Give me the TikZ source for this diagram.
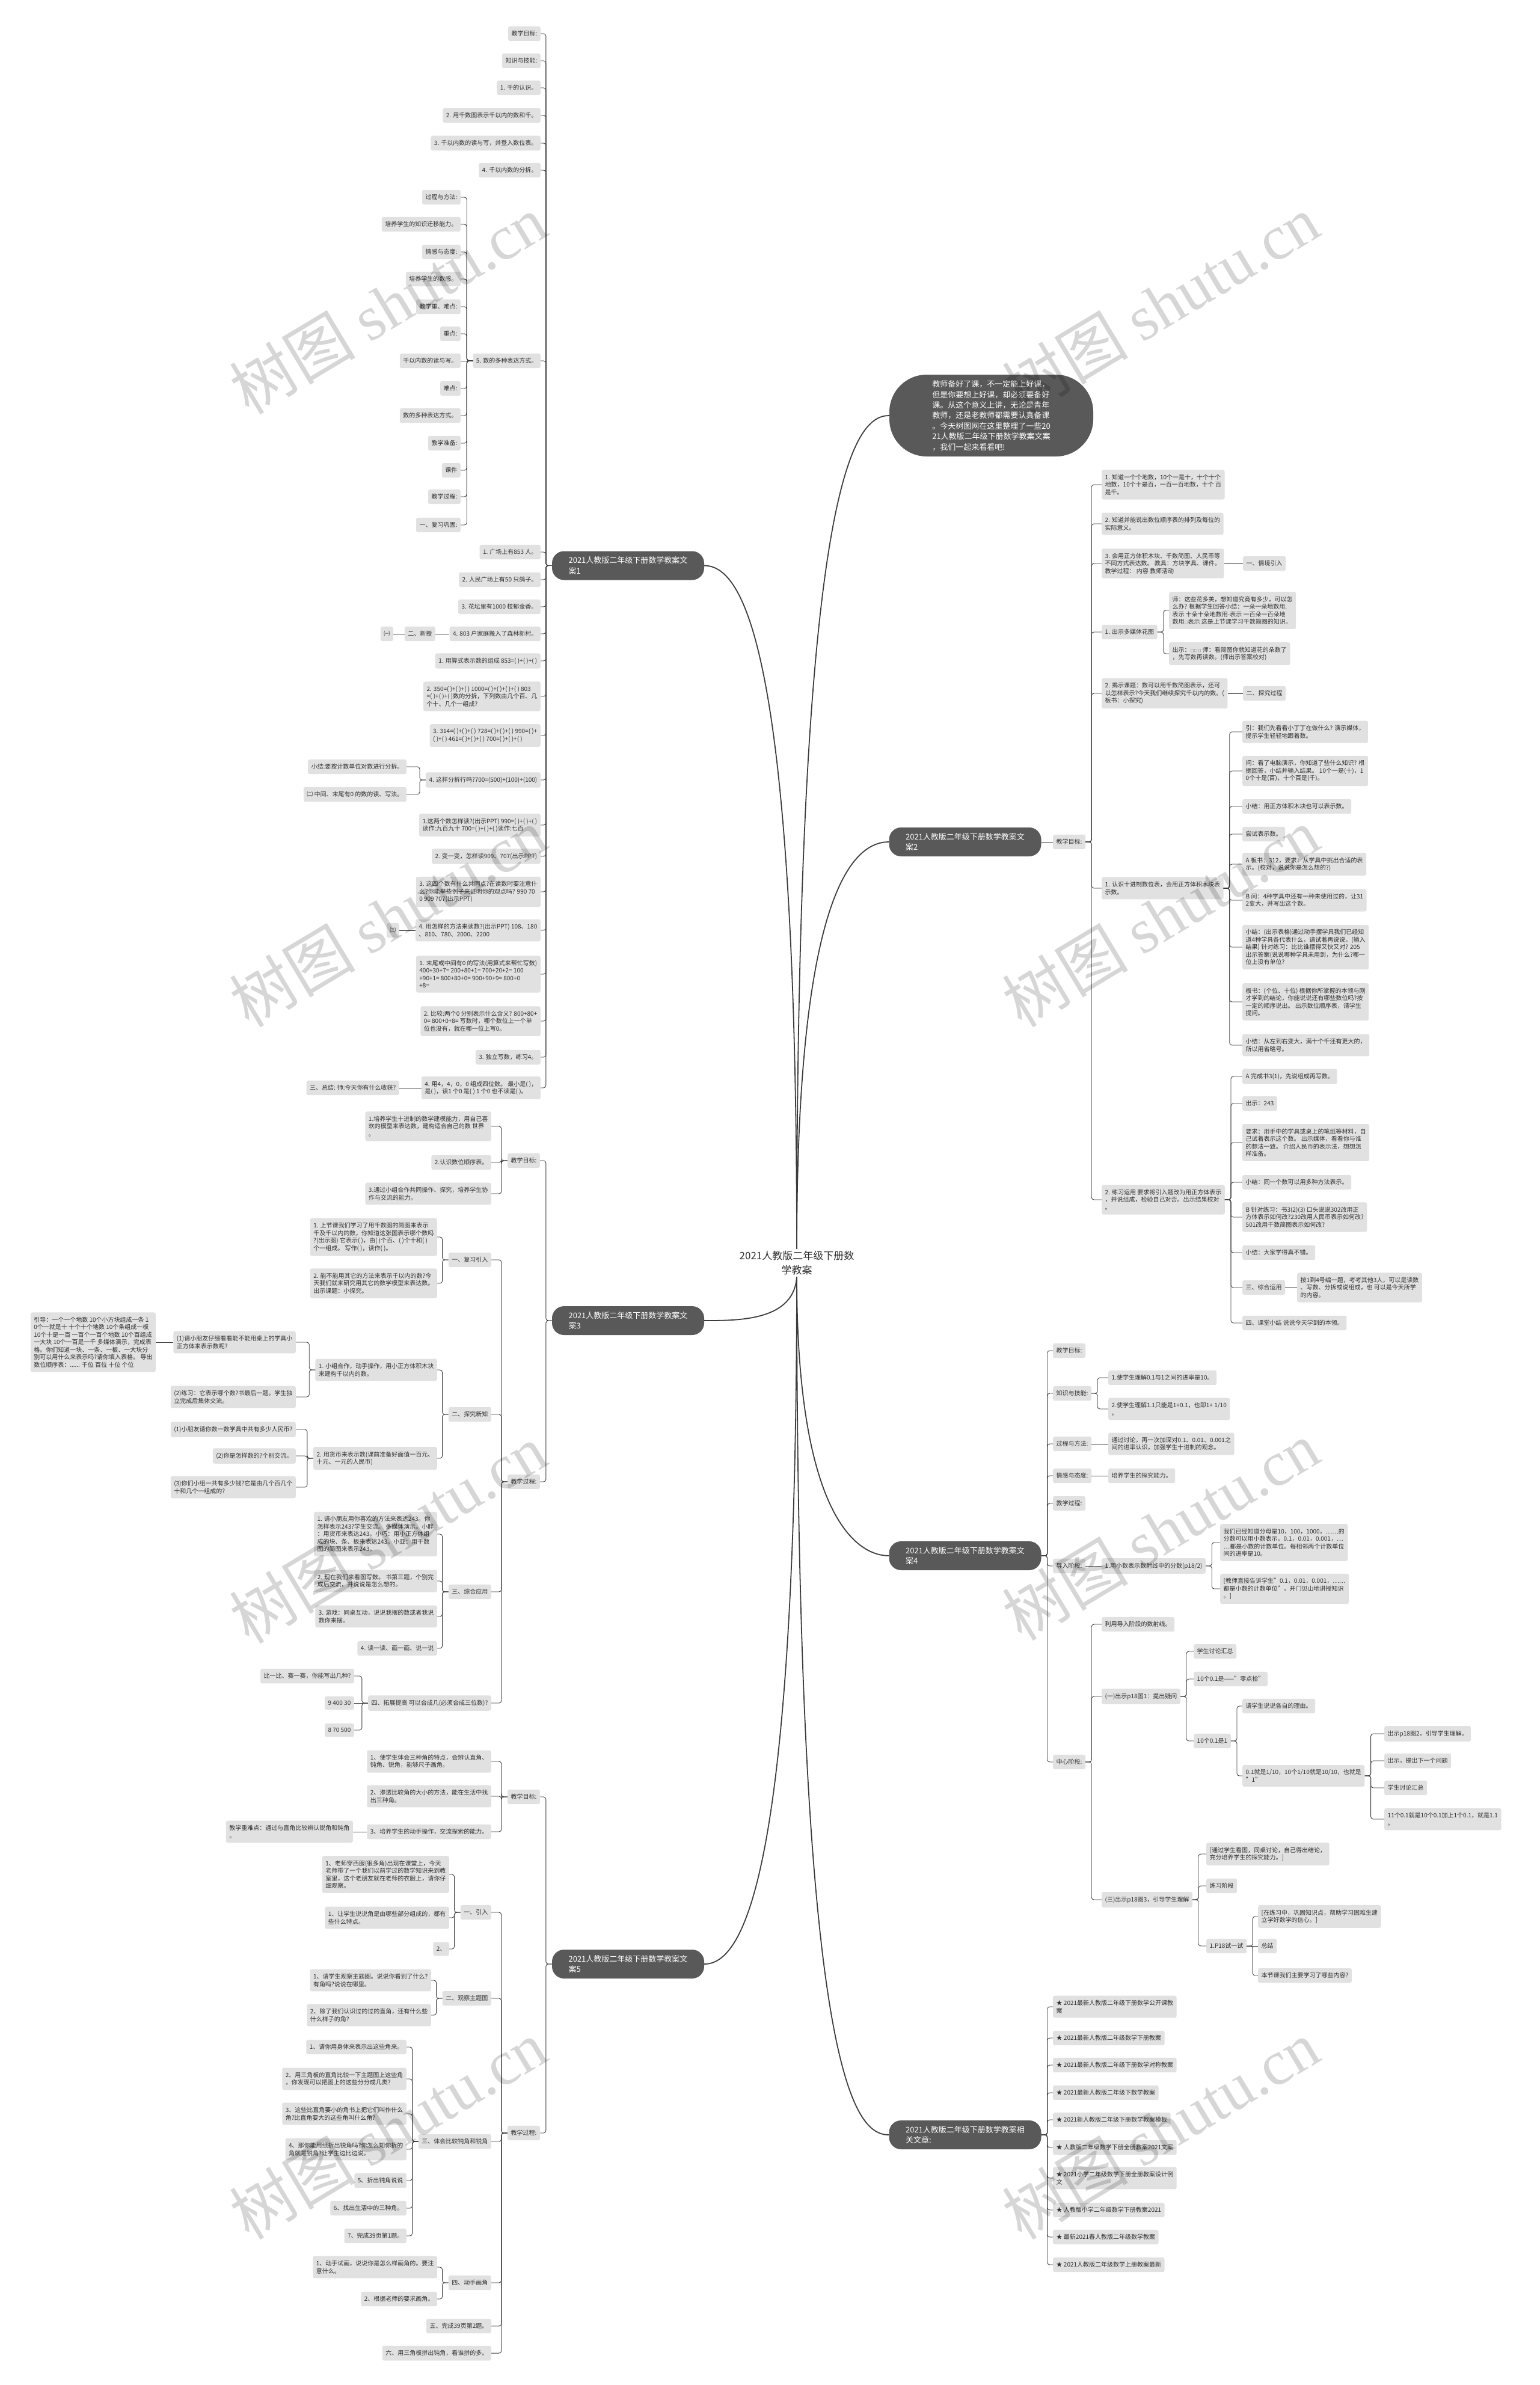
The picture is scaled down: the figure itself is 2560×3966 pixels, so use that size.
\documentclass[tikz,border=0pt]{standalone}
\usepackage{fontspec}
\setmainfont{Noto Sans CJK SC}
\newfontfamily\wmlatin{Liberation Serif}
\usepackage{xcolor}

\definecolor{leafgray}{HTML}{E1E1E1}
\definecolor{darknode}{HTML}{595959}
\definecolor{linegray}{HTML}{3C3C3C}
\definecolor{inkgray}{HTML}{2E2E2E}

\newcommand\leaffont{\fontsize{10pt}{12.5pt}\selectfont}
\newcommand\brfont{\fontsize{13pt}{17.4pt}\selectfont}
\newcommand\ctfont{\fontsize{17pt}{24pt}\selectfont}
\newcommand\wmsize{\fontsize{105pt}{105pt}\selectfont}
\newcommand\sq{{\fontsize{6pt}{6pt}\selectfont □}}

\tikzset{
  leaf/.style={fill=leafgray, rounded corners=3pt, inner xsep=5.5pt, inner ysep=7.5pt,
    align=left, font=\leaffont, text=inkgray},
  branch/.style={fill=darknode, rounded corners=20pt, text=white, font=\brfont,
    align=left, minimum width=253pt, minimum height=48pt},
  intro/.style={fill=darknode, rounded corners=62pt, text=white, font=\brfont,
    align=left, minimum width=339pt, minimum height=136pt},
  centre/.style={font=\ctfont, align=center, text=inkgray},
  link/.style={draw=linegray, line width=0.9pt, rounded corners=4pt},
  trunk/.style={draw=linegray, line width=1.8pt},
  wmark/.style={rotate=31, text=black, opacity=0.16, font=\wmsize}
}
% child links: left side / right side, bent or straight
\newcommand\lkl[2]{\draw[link] (#1.west) -- ++(-10pt,0) |- (#2.east);}
\newcommand\lkr[2]{\draw[link] (#1.east) -- ++(10pt,0) |- (#2.west);}
\newcommand\lsl[2]{\draw[link] (#1.west) -- (#2.east);}
\newcommand\lsr[2]{\draw[link] (#1.east) -- (#2.west);}

\begin{document}
\begin{tikzpicture}[x=1pt,y=-1pt]
  \fill[white] (0,0) rectangle (2560,3966);
  \useasboundingbox (0,0) rectangle (2560,3966);

  % ---------- centre and intro ----------
  \node[centre] (c) at (1325,2100) {2021人教版二年级下册数\\学教案};
  \node[intro] (intro) at (1648.5,691) {教师备好了课，不一定能上好课，\\但是你要想上好课，却必须要备好\\课。从这个意义上讲，无论是青年\\教师，还是老教师都需要认真备课\\。今天树图网在这里整理了一些20\\21人教版二年级下册数学教案文案\\，我们一起来看看吧!};

  % ---------- branch 1 (left, top) ----------
  \node[branch] (b1) at (1044.5,940.5) {2021人教版二年级下册数学教案文\\案1};
  \node[leaf,anchor=east] (o1) at (899,56) {教学目标:};
  \node[leaf,anchor=east] (o2) at (899,101) {知识与技能:};
  \node[leaf,anchor=east] (o3) at (899,146) {1. 千的认识。};
  \node[leaf,anchor=east] (o4) at (899,192) {2. 用千数图表示千以内的数和千。};
  \node[leaf,anchor=east] (o5) at (899,238) {3. 千以内数的读与写，并登入数位表。};
  \node[leaf,anchor=east] (o6) at (899,283) {4. 千以内数的分拆。};
  \node[leaf,anchor=east] (o7) at (899,600) {5. 数的多种表达方式。};
  \node[leaf,anchor=east] (o8) at (899,918) {1. 广场上有853 人。};
  \node[leaf,anchor=east] (o9) at (899,964) {2. 人民广场上有50 只鸽子。};
  \node[leaf,anchor=east] (o10) at (899,1009) {3. 花坛里有1000 枝郁金香。};
  \node[leaf,anchor=east] (o11) at (899,1054) {4. 803 户家庭搬入了森林新村。};
  \node[leaf,anchor=east] (o12) at (899,1099) {1. 用算式表示数的组成 853=( )+( )+( )};
  \node[leaf,anchor=east] (o13) at (899,1158) {2. 350=( )+( )+( ) 1000=( )+( )+( )+( ) 803\\=( )+( )+( )数的分拆，下列数由几个百、几\\个十、几个一组成?};
  \node[leaf,anchor=east] (o14) at (899,1223) {3. 314=( )+( )+( ) 728=( )+( )+( ) 990=( )+\\( )+( ) 461=( )+( )+( ) 700=( )+( )+( )};
  \node[leaf,anchor=east] (o15) at (899,1297) {4. 这样分拆行吗?700=(500)+(100)+(100)};
  \node[leaf,anchor=east] (o16) at (899,1372) {1.这两个数怎样读?(出示PPT) 990=( )+( )+( )\\读作:九百九十 700=( )+( )+( )读作:七百};
  \node[leaf,anchor=east] (o17) at (899,1424) {2. 变一变，怎样读909、707(出示PPT)};
  \node[leaf,anchor=east] (o18) at (899,1483) {3. 这四个数有什么共同点?在读数时要注意什\\么?你能举些例子来证明你的观点吗? 990 70\\0 909 707(出示PPT)};
  \node[leaf,anchor=east] (o19) at (899,1547) {4. 用怎样的方法来读数?(出示PPT) 108、180\\、810、780、2000、2200};
  \node[leaf,anchor=east] (o20) at (899,1620) {1. 末尾或中间有0 的写法(用算式来帮忙写数)\\400+30+7= 200+80+1= 700+20+2= 100\\+90+1= 800+80+0= 900+90+9= 800+0\\+8=};
  \node[leaf,anchor=east] (o21) at (899,1698) {2. 比较:两个0 分别表示什么含义? 800+80+\\0= 800+0+8= 写数时，哪个数位上一个单\\位也没有，就在哪一位上写0。};
  \node[leaf,anchor=east] (o22) at (899,1758) {3. 独立写数，练习4。};
  \node[leaf,anchor=east] (o23) at (899,1809) {4. 用4，4，0，0 组成四位数。 最小是( )，\\是( )，读1 个0 是( ) 1 个0 也不读是( )。};
  % under 5.
  \node[leaf,anchor=east] (o7a) at (766,328) {过程与方法:};
  \node[leaf,anchor=east] (o7b) at (766,373) {培养学生的知识迁移能力。};
  \node[leaf,anchor=east] (o7c) at (766,419) {情感与态度:};
  \node[leaf,anchor=east] (o7d) at (766,464) {培养学生的数感。};
  \node[leaf,anchor=east] (o7e) at (766,510) {教学重、难点:};
  \node[leaf,anchor=east] (o7f) at (766,555) {重点:};
  \node[leaf,anchor=east] (o7g) at (766,600) {千以内数的读与写。};
  \node[leaf,anchor=east] (o7h) at (766,646) {难点:};
  \node[leaf,anchor=east] (o7i) at (766,691) {数的多种表达方式。};
  \node[leaf,anchor=east] (o7j) at (766,737) {教学准备:};
  \node[leaf,anchor=east] (o7k) at (766,782) {课件};
  \node[leaf,anchor=east] (o7l) at (766,826) {教学过程:};
  \node[leaf,anchor=east] (o7m) at (766,873) {一、复习巩固:};
  % small side chains
  \node[leaf,anchor=east] (o11a) at (724,1054) {二、新授};
  \node[leaf,anchor=east] (o11b) at (654,1054) {㈠};
  \node[leaf,anchor=east] (o15a) at (676,1275) {小结:要按计数单位对数进行分拆。};
  \node[leaf,anchor=east] (o15b) at (676,1321) {㈡ 中间、末尾有0 的数的读、写法。};
  \node[leaf,anchor=east] (o19a) at (664,1547) {㈢};
  \node[leaf,anchor=east] (o23a) at (664,1809) {三、总结: 师:今天你有什么收获?};

  \foreach \k in {o1,o2,o3,o4,o5,o6,o7,o8,o9,o10,o11,o12,o13,o14,o15,o16,o17,o18,o19,o20,o21,o22,o23}
    {\lkl{b1}{\k}}
  \foreach \k in {o7a,o7b,o7c,o7d,o7e,o7f,o7h,o7i,o7j,o7k,o7l,o7m}
    {\lkl{o7}{\k}}
  \lsl{o7}{o7g}
  \lsl{o11}{o11a}
  \lsl{o11a}{o11b}
  \lkl{o15}{o15a}
  \lkl{o15}{o15b}
  \lsl{o19}{o19a}
  \lsl{o23}{o23a}

  % ---------- branch 3 (left, middle) ----------
  \node[branch] (b3) at (1044.5,2196) {2021人教版二年级下册数学教案文\\案3};
  \node[leaf,anchor=east] (p1) at (898,1930) {教学目标:};
  \node[leaf,anchor=east] (p2) at (898,2464) {教学过程:};
  \node[leaf,anchor=east] (p1a) at (817,1873) {1.培养学生十进制的数学建模能力，用自己喜\\欢的模型来表达数，建构适合自己的数 世界\\。};
  \node[leaf,anchor=east] (p1b) at (817,1933) {2.认识数位顺序表。};
  \node[leaf,anchor=east] (p1c) at (817,1985) {3.通过小组合作共同操作、探究，培养学生协\\作与交流的能力。};
  \node[leaf,anchor=east] (p2a) at (817,2095) {一、复习引入};
  \node[leaf,anchor=east] (p2b) at (817,2352) {二、探究新知};
  \node[leaf,anchor=east] (p2c) at (817,2647) {三、综合应用};
  \node[leaf,anchor=east] (p2d) at (817,2832) {四、拓展提高 可以合成几(必须合成三位数)?};
  \node[leaf,anchor=east] (p2a1) at (727,2057) {1. 上节课我们学习了用千数图的简图来表示\\千及千以内的数，你知道这张图表示哪个数吗\\?(出示图) 它表示( )，由( )个百、( )个十和( )\\个一组成。 写作( )，读作( )。};
  \node[leaf,anchor=east] (p2a2) at (727,2134) {2. 能不能用其它的方法来表示千以内的数?今\\天我们就来研究用其它的数学模型来表达数。\\ 出示课题：小探究。};
  \node[leaf,anchor=east] (p2b1) at (727,2278) {1. 小组合作，动手操作，用小正方体积木块\\来建构千以内的数。};
  \node[leaf,anchor=east] (p2b2) at (727,2425) {2. 用货币来表示数(课前准备好面值一百元、\\十元、一元的人民币)};
  \node[leaf,anchor=east] (p2b1a) at (492,2232) {(1)请小朋友仔细看看能不能用桌上的学具小\\正方体来表示数呢?};
  \node[leaf,anchor=east] (p2b1b) at (492,2323) {(2)练习：它表示哪个数?书最后一题。学生独\\立完成后集体交流。};
  \node[leaf,anchor=east] (p2b1c) at (259,2232) {引导：一个一个地数 10个小方块组成一条 1\\0个一就是十 十个十个地数 10个条组成一板\\10个十是一百 一百个一百个地数 10个百组成\\一大块 10个一百是一千 多媒体演示，完成表\\格。你们知道一块、一条、一板、一大块分\\别可以用什么来表示吗?请你填入表格。 导出\\数位顺序表：...... 千位 百位 十位 个位};
  \node[leaf,anchor=east] (p2b2a) at (492,2377) {(1)小朋友请你数一数学具中共有多少人民币?};
  \node[leaf,anchor=east] (p2b2b) at (492,2421) {(2)你是怎样数的?个别交流。};
  \node[leaf,anchor=east] (p2b2c) at (492,2473) {(3)你们小组一共有多少钱?它是由几个百几个\\十和几个一组成的?};
  \node[leaf,anchor=east] (p2c1) at (727,2551) {1. 请小朋友用你喜欢的方法来表达243。你\\怎样表示243?学生交流。 多媒体演示。小胖\\：用货币来表达243。小巧：用小正方体组\\成的块、条、板来表达243。小亚：用千数\\图的简图来表示243。};
  \node[leaf,anchor=east] (p2c2) at (727,2629) {2. 现在我们来看图写数。 书第三题，个别完\\成后交流，并说说是怎么想的。};
  \node[leaf,anchor=east] (p2c3) at (727,2688) {3. 游戏：同桌互动，说说我摆的数或者我说\\数你来摆。};
  \node[leaf,anchor=east] (p2c4) at (727,2741) {4. 读一读、画一画、说一说};
  \node[leaf,anchor=east] (p2d1) at (589,2787) {比一比、赛一赛，你能写出几种?};
  \node[leaf,anchor=east] (p2d2) at (589,2832) {9 400 30};
  \node[leaf,anchor=east] (p2d3) at (589,2877) {8 70 500};

  \lkl{b3}{p1}
  \lkl{b3}{p2}
  \foreach \k in {p1a,p1b,p1c} {\lkl{p1}{\k}}
  \foreach \k in {p2a,p2b,p2c,p2d} {\lkl{p2}{\k}}
  \foreach \k in {p2a1,p2a2} {\lkl{p2a}{\k}}
  \foreach \k in {p2b1,p2b2} {\lkl{p2b}{\k}}
  \foreach \k in {p2b1a,p2b1b} {\lkl{p2b1}{\k}}
  \lsl{p2b1a}{p2b1c}
  \foreach \k in {p2b2a,p2b2b,p2b2c} {\lkl{p2b2}{\k}}
  \foreach \k in {p2c1,p2c2,p2c3,p2c4} {\lkl{p2c}{\k}}
  \lkl{p2d}{p2d1}
  \lsl{p2d}{p2d2}
  \lkl{p2d}{p2d3}

  % ---------- branch 5 (left, bottom) ----------
  \node[branch] (b5) at (1044.5,3266) {2021人教版二年级下册数学教案文\\案5};
  \node[leaf,anchor=east] (q1) at (898,2988) {教学目标:};
  \node[leaf,anchor=east] (q2) at (898,3547) {教学过程:};
  \node[leaf,anchor=east] (q1a) at (817,2929) {1、使学生体会三种角的特点，会辨认直角、\\钝角、锐角，能够尺子画角。};
  \node[leaf,anchor=east] (q1b) at (817,2987) {2、渗透比较角的大小的方法，能在生活中找\\出三种角。};
  \node[leaf,anchor=east] (q1c) at (817,3046) {3、培养学生的动手操作，交流探索的能力。};
  \node[leaf,anchor=east] (q1d) at (587,3046) {教学重难点：通过与直角比较辨认锐角和钝角\\。};
  \node[leaf,anchor=east] (q2a) at (817,3180) {一、引入};
  \node[leaf,anchor=east] (q2b) at (817,3323) {二、观察主题图};
  \node[leaf,anchor=east] (q2c) at (817,3561) {三、体会比较钝角和锐角};
  \node[leaf,anchor=east] (q2d) at (817,3796) {四、动手画角};
  \node[leaf,anchor=east] (q2e) at (817,3868) {五、完成39页第2题。};
  \node[leaf,anchor=east] (q2f) at (817,3913) {六、用三角板拼出钝角，看谁拼的多。};
  \node[leaf,anchor=east] (q2a1) at (747,3117) {1、老师穿西服(很多角)出现在课堂上，今天\\老师带了一个我们以前学过的数学知识来到教\\室里，这个老朋友就在老师的衣服上，请你仔\\细观察。};
  \node[leaf,anchor=east] (q2a2) at (747,3189) {1、让学生说说角是由哪些部分组成的，都有\\些什么特点。};
  \node[leaf,anchor=east] (q2a3) at (747,3241) {2、};
  \node[leaf,anchor=east] (q2b1) at (717,3293) {1、请学生观察主题图。说说你看到了什么?\\有角吗?说说在哪里。};
  \node[leaf,anchor=east] (q2b2) at (717,3351) {2、除了我们认识过的过的直角，还有什么些\\什么样子的角?};
  \node[leaf,anchor=east] (q2c1) at (676,3404) {1、请你用身体来表示出这些角来。};
  \node[leaf,anchor=east] (q2c2) at (676,3457) {2、用三角板的直角比较一下主题图上这些角\\，你发现可以把图上的这些分分成几类?};
  \node[leaf,anchor=east] (q2c3) at (676,3515) {3、这些比直角要小的角书上把它们叫作什么\\角?比直角要大的这些角叫什么角?};
  \node[leaf,anchor=east] (q2c4) at (676,3574) {4、那你能用纸折出锐角吗?你怎么知你折的\\角就是锐角?让学生边比边说。};
  \node[leaf,anchor=east] (q2c5) at (676,3626) {5、折出钝角说说};
  \node[leaf,anchor=east] (q2c6) at (676,3672) {6、找出生活中的三种角。};
  \node[leaf,anchor=east] (q2c7) at (676,3718) {7、完成39页第1题。};
  \node[leaf,anchor=east] (q2d1) at (727,3770) {1、动手试画，说说你是怎么样画角的。要注\\意什么。};
  \node[leaf,anchor=east] (q2d2) at (727,3823) {2、根据老师的要求画角。};

  \lkl{b5}{q1}
  \lkl{b5}{q2}
  \foreach \k in {q1a,q1b,q1c} {\lkl{q1}{\k}}
  \lsl{q1c}{q1d}
  \foreach \k in {q2a,q2b,q2c,q2d,q2e,q2f} {\lkl{q2}{\k}}
  \foreach \k in {q2a1,q2a2,q2a3} {\lkl{q2a}{\k}}
  \foreach \k in {q2b1,q2b2} {\lkl{q2b}{\k}}
  \foreach \k in {q2c1,q2c2,q2c3,q2c4,q2c5,q2c6,q2c7} {\lkl{q2c}{\k}}
  \foreach \k in {q2d1,q2d2} {\lkl{q2d}{\k}}

  % ---------- branch 2 (right, top) ----------
  \node[branch] (b2) at (1605,1400) {2021人教版二年级下册数学教案文\\案2};
  \node[leaf,anchor=west] (r1) at (1751,1400) {教学目标:};
  \node[leaf,anchor=west] (r1a) at (1832,806) {1. 知道一个个地数，10个一是十，十个十个\\地数，10个十是百，一百一百地数，十个 百\\是千。};
  \node[leaf,anchor=west] (r1b) at (1832,871) {2. 知道并能说出数位顺序表的排列及每位的\\实际意义。};
  \node[leaf,anchor=west] (r1c) at (1832,937) {3. 会用正方体积木块、千数简图、人民币等\\不同方式表达数。 教具：方块学具、课件。\\教学过程： 内容 教师活动};
  \node[leaf,anchor=west] (r1c1) at (2067,937) {一、情境引入};
  \node[leaf,anchor=west] (r1d) at (1832,1051) {1. 出示多媒体花图};
  \node[leaf,anchor=west] (r1d1) at (1944,1015) {师：这些花多美，想知道究竟有多少，可以怎\\么办? 根据学生回答小结：一朵一朵地数用.\\表示 十朵十朵地数用-表示 一百朵一百朵地\\数用\sq 表示 这是上节课学习千数简图的知识。};
  \node[leaf,anchor=west] (r1d2) at (1944,1087) {出示：\sq\sq\sq\ 师：看简图你就知道花的朵数了\\，先写数再读数。(师出示答案校对)};
  \node[leaf,anchor=west] (r1e) at (1832,1153) {2. 揭示课题：数可以用千数简图表示，还可\\以怎样表示?今天我们继续探究千以内的数。(\\板书：小探究)};
  \node[leaf,anchor=west] (r1e1) at (2067,1153) {二、探究过程};
  \node[leaf,anchor=west] (r1f) at (1832,1477) {1. 认识十进制数位表，会用正方体积木块表\\示数。};
  \node[leaf,anchor=west] (r1f1) at (2066,1217) {引：我们先看看小丁丁在做什么? 演示媒体，\\提示学生轻轻地跟着数。};
  \node[leaf,anchor=west] (r1f2) at (2066,1282) {问：看了电脑演示，你知道了些什么知识? 根\\据回答，小结并输入结果。 10个一是(十)，1\\0个十是(百)，十个百是(千)。};
  \node[leaf,anchor=west] (r1f3) at (2066,1341) {小结：用正方体积木块也可以表示数。};
  \node[leaf,anchor=west] (r1f4) at (2066,1387) {尝试表示数。};
  \node[leaf,anchor=west] (r1f5) at (2066,1437) {A 板书：312，要求：从学具中挑出合适的表\\示。(校对，说说你是怎么想的?)};
  \node[leaf,anchor=west] (r1f6) at (2066,1497) {B 问：4种学具中还有一种未使用过的，让31\\2变大，并写出这个数。};
  \node[leaf,anchor=west] (r1f7) at (2066,1575) {小结：(出示表格)通过动手摆学具我们已经知\\道4种学具各代表什么，请试着再说说。(输入\\结果) 针对练习：比比谁摆得又快又对? 205\\出示答案(说说哪种学具未用到，为什么?哪一\\位上没有单位?};
  \node[leaf,anchor=west] (r1f8) at (2066,1666) {板书：(个位、十位) 根据你所掌握的本领与刚\\才学到的结论，你能说说还有哪些数位吗?按\\一定的顺序说出。 出示数位顺序表，请学生\\提问。};
  \node[leaf,anchor=west] (r1f9) at (2066,1738) {小结：从左到右变大，满十个千还有更大的，\\所以用省略号。};
  \node[leaf,anchor=west] (r1g) at (1832,1995) {2. 练习运用 要求将引入题改为用正方体表示\\，并说组成，检验自己对否。出示结果校对\\。};
  \node[leaf,anchor=west] (r1g1) at (2066,1790) {A 完成书3(1)，先说组成再写数。};
  \node[leaf,anchor=west] (r1g2) at (2066,1835) {出示：243};
  \node[leaf,anchor=west] (r1g3) at (2066,1900) {要求：用手中的学具或桌上的笔纸等材料，自\\己试着表示这个数。 出示媒体，看看你与谁\\的想法一致。 介绍人民币的表示法，想想怎\\样准备。};
  \node[leaf,anchor=west] (r1g4) at (2066,1966) {小结：同一个数可以用多种方法表示。};
  \node[leaf,anchor=west] (r1g5) at (2066,2024) {B 针对练习：书3(2)(3) 口头说说302改用正\\方体表示如何改?230改用人民币表示如何改?\\501改用千数简图表示如何改?};
  \node[leaf,anchor=west] (r1g6) at (2066,2083) {小结：大家学得真不错。};
  \node[leaf,anchor=west] (r1g7) at (2066,2141) {三、综合运用};
  \node[leaf,anchor=west] (r1g7a) at (2157,2141) {按1到4号编一题，考考其他3人，可以是读数\\、写数、分拆或说组成，也 可以是今天所学\\的内容。};
  \node[leaf,anchor=west] (r1g8) at (2066,2200) {四、课堂小结 说说今天学到的本领。};

  \lsr{b2}{r1}
  \foreach \k in {r1a,r1b,r1c,r1d,r1e,r1f,r1g} {\lkr{r1}{\k}}
  \lsr{r1c}{r1c1}
  \foreach \k in {r1d1,r1d2} {\lkr{r1d}{\k}}
  \lsr{r1e}{r1e1}
  \foreach \k in {r1f1,r1f2,r1f3,r1f4,r1f5,r1f6,r1f7,r1f8,r1f9} {\lkr{r1f}{\k}}
  \foreach \k in {r1g1,r1g2,r1g3,r1g4,r1g5,r1g6,r1g7,r1g8} {\lkr{r1g}{\k}}
  \lsr{r1g7}{r1g7a}

  % ---------- branch 4 (right, middle) ----------
  \node[branch] (b4) at (1605,2587) {2021人教版二年级下册数学教案文\\案4};
  \node[leaf,anchor=west] (s1) at (1751,2246) {教学目标:};
  \node[leaf,anchor=west] (s2) at (1751,2317) {知识与技能:};
  \node[leaf,anchor=west] (s3) at (1751,2401) {过程与方法:};
  \node[leaf,anchor=west] (s4) at (1751,2454) {情感与态度:};
  \node[leaf,anchor=west] (s5) at (1751,2500) {教学过程:};
  \node[leaf,anchor=west] (s6) at (1751,2604) {导入阶段:};
  \node[leaf,anchor=west] (s7) at (1751,2930) {中心阶段:};
  \node[leaf,anchor=west] (s2a) at (1843,2291) {1.使学生理解0.1与1之间的进率是10。};
  \node[leaf,anchor=west] (s2b) at (1843,2343) {2.使学生理解1.1只能是1+0.1，也即1+ 1/10\\。};
  \node[leaf,anchor=west] (s3a) at (1843,2401) {通过讨论，再一次加深对0.1、0.01、0.001之\\间的进率认识，加强学生十进制的观念。};
  \node[leaf,anchor=west] (s4a) at (1843,2454) {培养学生的探究能力。};
  \node[leaf,anchor=west] (s6a) at (1832,2604) {1.用小数表示数射线中的分数(p18/2)};
  \node[leaf,anchor=west] (s6a1) at (2029,2565) {我们已经知道分母是10，100，1000，……的\\分数可以用小数表示。0.1，0.01，0.001，…\\…都是小数的计数单位。每相邻两个计数单位\\间的进率是10。};
  \node[leaf,anchor=west] (s6a2) at (2029,2642) {[教师直接告诉学生"0.1，0.01，0.001，……\\都是小数的计数单位"，开门见山地讲授知识\\。]};
  \node[leaf,anchor=west] (s7a) at (1832,2701) {利用导入阶段的数射线。};
  \node[leaf,anchor=west] (s7b) at (1832,2821) {(一)出示p18图1：提出疑问};
  \node[leaf,anchor=west] (s7c) at (1832,3159) {(三)出示p18图3，引导学生理解};
  \node[leaf,anchor=west] (s7b1) at (1985,2746) {学生讨论汇总};
  \node[leaf,anchor=west] (s7b2) at (1985,2792) {10个0.1是——"零点拾"};
  \node[leaf,anchor=west] (s7b3) at (1985,2895) {10个0.1是1};
  \node[leaf,anchor=west] (s7b3a) at (2066,2837) {请学生说说各自的理由。};
  \node[leaf,anchor=west] (s7b3b) at (2066,2953) {0.1就是1/10，10个1/10就是10/10，也就是\\"1"};
  \node[leaf,anchor=west] (s7b3b1) at (2302,2883) {出示p18图2，引导学生理解。};
  \node[leaf,anchor=west] (s7b3b2) at (2302,2928) {出示，提出下一个问题};
  \node[leaf,anchor=west] (s7b3b3) at (2302,2973) {学生讨论汇总};
  \node[leaf,anchor=west] (s7b3b4) at (2302,3025) {11个0.1就是10个0.1加上1个0.1，就是1.1\\。};
  \node[leaf,anchor=west] (s7c1) at (2006,3083) {[通过学生看图，同桌讨论，自己得出结论，\\充分培养学生的探究能力。]};
  \node[leaf,anchor=west] (s7c2) at (2006,3136) {练习阶段};
  \node[leaf,anchor=west] (s7c3) at (2006,3236) {1.P18试一试};
  \node[leaf,anchor=west] (s7c3a) at (2092,3187) {[在练习中，巩固知识点，帮助学习困难生建\\立学好数学的信心。]};
  \node[leaf,anchor=west] (s7c3b) at (2092,3236) {总结};
  \node[leaf,anchor=west] (s7c3c) at (2092,3285) {本节课我们主要学习了哪些内容?};

  \foreach \k in {s1,s2,s3,s4,s5,s6,s7} {\lkr{b4}{\k}}
  \foreach \k in {s2a,s2b} {\lkr{s2}{\k}}
  \lsr{s3}{s3a}
  \lsr{s4}{s4a}
  \lsr{s6}{s6a}
  \foreach \k in {s6a1,s6a2} {\lkr{s6a}{\k}}
  \foreach \k in {s7a,s7b,s7c} {\lkr{s7}{\k}}
  \foreach \k in {s7b1,s7b2,s7b3} {\lkr{s7b}{\k}}
  \foreach \k in {s7b3a,s7b3b} {\lkr{s7b3}{\k}}
  \foreach \k in {s7b3b1,s7b3b2,s7b3b3,s7b3b4} {\lkr{s7b3b}{\k}}
  \foreach \k in {s7c1,s7c2,s7c3} {\lkr{s7c}{\k}}
  \lkr{s7c3}{s7c3a}
  \lsr{s7c3}{s7c3b}
  \lkr{s7c3}{s7c3c}

  % ---------- branch 6 (right, bottom) ----------
  \node[branch] (b6) at (1605,3550) {2021人教版二年级下册数学教案相\\关文章:};
  \node[leaf,anchor=west] (t1) at (1751,3337) {★ 2021最新人教版二年级下册数学公开课教\\案};
  \node[leaf,anchor=west] (t2) at (1751,3389) {★ 2021最新人教版二年级数学下册教案};
  \node[leaf,anchor=west] (t3) at (1751,3434) {★ 2021最新人教版二年级下册数学对称教案};
  \node[leaf,anchor=west] (t4) at (1751,3480) {★ 2021最新人教版二年级下数学教案};
  \node[leaf,anchor=west] (t5) at (1751,3525) {★ 2021新人教版二年级下册数学教案模板};
  \node[leaf,anchor=west] (t6) at (1751,3571) {★ 人教版二年级数学下册全册教案2021文案};
  \node[leaf,anchor=west] (t7) at (1751,3622) {★ 2021小学二年级数学下册全册教案设计例\\文};
  \node[leaf,anchor=west] (t8) at (1751,3675) {★ 人教版小学二年级数学下册教案2021};
  \node[leaf,anchor=west] (t9) at (1751,3720) {★ 最新2021春人教版二年级数学教案};
  \node[leaf,anchor=west] (t10) at (1751,3766) {★ 2021人教版二年级数学上册教案最新};
  \foreach \k in {t1,t2,t3,t4,t5,t6,t7,t8,t9,t10} {\lkr{b6}{\k}}

  % ---------- trunk curves from the centre ----------
  \draw[trunk] (c.north) .. controls (1325,800) and (1420,691) .. (intro.west);
  \draw[trunk] (c.north) .. controls (1325,1050) and (1230,941) .. (b1.east);
  \draw[trunk] (c.north) .. controls (1325,1480) and (1420,1400) .. (b2.west);
  \draw[trunk] (c.south) .. controls (1320,2196) and (1230,2196) .. (b3.east);
  \draw[trunk] (c.south) .. controls (1325,2510) and (1420,2587) .. (b4.west);
  \draw[trunk] (c.south) .. controls (1325,3150) and (1230,3266) .. (b5.east);
  \draw[trunk] (c.south) .. controls (1325,3450) and (1420,3550) .. (b6.west);

  % ---------- watermark ----------
  \foreach \wx/\wy [count=\i] in {645/506,1930/506,645/1525,1930/1525,645/2550,1930/2545,645/3541,1930/3541}
    \node[wmark] (wm\i) at (\wx,\wy) {树图 {\wmlatin shutu.cn}};
\end{tikzpicture}
\end{document}
